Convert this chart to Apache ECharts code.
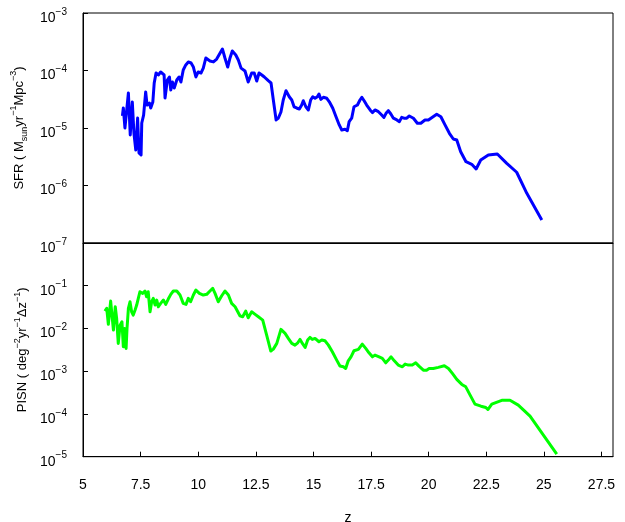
<!DOCTYPE html>
<html>
<head>
<meta charset="utf-8">
<script src="https://cdn.jsdelivr.net/npm/echarts@6/dist/echarts.min.js"></script>
<style>
html,body{margin:0;padding:0;background:#fff;}
#chart{width:625px;height:522px;}
</style>
</head>
<body>
<div id="chart"></div>
<script>
// redshift ticks
const xTicks = [5, 7.5, 10, 12.5, 15, 17.5, 20, 22.5, 25, 27.5];

// SFR curve (z, M_sun yr^-1 Mpc^-3)
const zSfr = [6.71,6.75,6.82,6.97,7.05,7.14,7.21,7.29,7.37,7.43,
  7.52,7.55,7.63,7.72,7.78,7.88,7.94,8.03,8.09,8.17,
  8.27,8.37,8.44,8.52,8.56,8.66,8.75,8.81,8.88,8.96,
  9.07,9.17,9.25,9.35,9.46,9.57,9.69,9.79,9.90,10.00,
  10.12,10.22,10.33,10.41,10.51,10.66,10.80,10.95,11.05,11.16,
  11.28,11.38,11.48,11.63,11.74,11.86,12.03,12.17,12.32,12.43,
  12.54,12.64,12.76,12.87,13.04,13.16,13.26,13.38,13.48,13.59,
  13.69,13.81,13.95,14.06,14.16,14.27,14.39,14.49,14.56,14.67,
  14.78,14.88,14.97,15.07,15.17,15.24,15.32,15.43,15.58,15.69,
  15.84,15.98,16.12,16.23,16.37,16.47,16.55,16.66,16.76,16.91,
  17.02,17.10,17.20,17.31,17.46,17.56,17.67,17.82,17.92,18.06,
  18.15,18.25,18.36,18.47,18.62,18.73,18.83,18.93,19.05,19.16,
  19.22,19.34,19.51,19.66,19.74,19.84,19.99,20.13,20.35,20.53,
  20.71,20.90,21.07,21.22,21.39,21.62,21.87,22.06,22.26,22.59,
  22.98,23.39,23.82,24.26,24.91];
const sfr = [1.62e-5,2.23e-5,1.0e-5,4.06e-5,7.55e-6,2.83e-5,8.18e-6,4.14e-6,1.49e-5,3.67e-6,
  3.39e-6,1.22e-5,1.68e-5,4.23e-5,2.51e-5,2.72e-5,2.23e-5,2.83e-5,6.06e-5,9.05e-5,
  8.36e-5,9.42e-5,1.02e-4,8.36e-5,3.33e-5,6.84e-5,7.71e-5,4.58e-5,6.31e-5,4.97e-5,
  6.84e-5,7.71e-5,6.31e-5,1.02e-4,1.25e-4,1.41e-4,1.35e-4,1.15e-4,7.71e-5,9.42e-5,
  9.05e-5,1.10e-4,1.65e-4,1.72e-4,1.46e-4,1.41e-4,1.58e-4,2.01e-4,2.37e-4,1.65e-4,
  1.15e-4,1.65e-4,2.18e-4,1.86e-4,1.52e-4,1.10e-4,9.80e-5,6.31e-5,9.05e-5,9.05e-5,
  6.57e-5,9.05e-5,8.36e-5,7.71e-5,6.65e-5,6.06e-5,3.07e-5,1.38e-5,1.49e-5,1.90e-5,
  3.07e-5,4.46e-5,3.50e-5,3.07e-5,2.34e-5,2.23e-5,2.14e-5,2.51e-5,2.98e-5,2.34e-5,
  2.06e-5,3.07e-5,3.50e-5,3.29e-5,3.50e-5,3.90e-5,3.15e-5,3.42e-5,3.29e-5,2.86e-5,
  2.20e-5,1.57e-5,1.13e-5,9.23e-6,9.48e-6,8.97e-6,1.29e-5,1.48e-5,2.34e-5,2.51e-5,
  3.07e-5,3.42e-5,2.98e-5,2.51e-5,2.06e-5,1.85e-5,2.06e-5,1.92e-5,1.75e-5,1.53e-5,
  1.80e-5,2.00e-5,1.75e-5,1.48e-5,1.38e-5,1.29e-5,1.53e-5,1.48e-5,1.48e-5,1.62e-5,
  1.68e-5,1.48e-5,1.21e-5,1.21e-5,1.16e-5,1.38e-5,1.38e-5,1.51e-5,1.73e-5,1.57e-5,
  1.13e-5,8.09e-6,6.44e-6,6.18e-6,3.87e-6,2.59e-6,2.34e-6,1.94e-6,2.77e-6,3.39e-6,
  3.53e-6,2.43e-6,1.70e-6,7.31e-7,2.51e-7];

// PISN curve (z, deg^-2 yr^-1 dz^-1)
const zPisn = [5.95,6.03,6.10,6.20,6.27,6.32,6.40,6.46,6.53,6.61,
  6.69,6.75,6.81,6.87,6.91,6.97,7.04,7.11,7.18,7.26,
  7.33,7.40,7.47,7.59,7.69,7.76,7.83,7.91,7.98,8.05,
  8.13,8.20,8.27,8.37,8.49,8.59,8.70,8.81,8.92,9.07,
  9.21,9.35,9.47,9.57,9.67,9.79,9.90,10.05,10.22,10.37,
  10.51,10.63,10.73,10.87,11.02,11.16,11.31,11.45,11.60,11.67,
  11.81,11.93,12.06,12.17,12.32,12.47,12.61,12.80,12.97,13.15,
  13.26,13.41,13.59,13.77,13.91,14.06,14.20,14.32,14.42,14.52,
  14.64,14.75,14.85,14.95,15.07,15.14,15.24,15.36,15.50,15.65,
  15.82,16.01,16.15,16.30,16.40,16.51,16.63,16.76,16.95,17.12,
  17.27,17.41,17.56,17.67,17.85,17.99,18.14,18.25,18.37,18.51,
  18.68,18.86,18.98,19.12,19.29,19.44,19.58,19.77,19.91,20.02,
  20.20,20.42,20.68,20.86,21.03,21.22,21.44,21.61,21.80,22.01,
  22.27,22.48,22.57,22.74,23.00,23.20,23.53,23.89,24.40,24.98,25.56];
const pisn = [2.55e-2,2.96e-2,1.25e-2,4.38e-2,4.62e-2,9.18e-3,3.22e-2,1.72e-2,4.48e-3,1.20e-2,
  1.44e-2,3.73e-3,1.00e-2,3.42e-3,1.00e-2,2.96e-2,4.22e-2,2.46e-2,2.06e-2,2.70e-2,
  3.53e-2,5.07e-2,7.23e-2,6.64e-2,7.52e-2,5.52e-2,7.23e-2,2.46e-2,4.22e-2,5.07e-2,
  3.53e-2,4.62e-2,3.22e-2,3.87e-2,4.62e-2,3.67e-2,4.88e-2,6.29e-2,7.52e-2,7.52e-2,
  6.06e-2,3.87e-2,3.67e-2,5.07e-2,4.22e-2,6.06e-2,7.93e-2,6.64e-2,6.06e-2,6.29e-2,
  7.52e-2,8.69e-2,6.64e-2,4.22e-2,5.83e-2,7.52e-2,6.06e-2,3.87e-2,3.22e-2,2.96e-2,
  1.98e-2,1.88e-2,2.55e-2,1.78e-2,2.46e-2,2.14e-2,1.88e-2,1.57e-2,7.00e-3,2.96e-3,
  3.29e-3,4.48e-3,9.52e-3,7.68e-3,5.86e-3,4.48e-3,4.08e-3,4.63e-3,5.56e-3,4.48e-3,
  3.61e-3,5.35e-3,6.19e-3,5.56e-3,5.86e-3,6.39e-3,4.89e-3,5.35e-3,5.15e-3,4.08e-3,
  2.85e-3,1.82e-3,1.32e-3,1.27e-3,1.16e-3,1.75e-3,2.17e-3,3.01e-3,3.24e-3,4.31e-3,
  3.42e-3,2.70e-3,2.17e-3,2.38e-3,2.17e-3,2.00e-3,1.57e-3,1.82e-3,2.17e-3,1.75e-3,
  1.39e-3,1.27e-3,1.47e-3,1.39e-3,1.39e-3,1.57e-3,1.32e-3,1.06e-3,1.06e-3,1.16e-3,
  1.16e-3,1.23e-3,1.34e-3,1.16e-3,8.88e-4,6.43e-4,4.91e-4,4.31e-4,2.76e-4,1.70e-4,
  1.52e-4,1.42e-4,1.27e-4,1.70e-4,1.92e-4,2.10e-4,2.10e-4,1.61e-4,8.88e-5,3.19e-5,1.15e-5];

const FONT = '"Liberation Sans", Arial, sans-serif';
const zip = (a, b) => a.map((v, i) => [v, b[i]]);

function powLabel(v) {
  const e = Math.round(Math.log10(v));
  return '{b|10}{s|' + (e < 0 ? '\u2212' : '') + Math.abs(e) + '}';
}
const powRich = {
  b: {fontSize: 14, lineHeight: 18, verticalAlign: 'bottom', fontFamily: FONT, color: '#000'},
  s: {fontSize: 10, lineHeight: 10, verticalAlign: 'top', fontFamily: FONT, color: '#000'}
};
const nameRich = {
  t: {fontSize: 13, lineHeight: 20, fontFamily: FONT, color: '#000'},
  p: {fontSize: 9, lineHeight: 9, verticalAlign: 'top', fontFamily: FONT, color: '#000'},
  d: {fontSize: 9, lineHeight: 9, verticalAlign: 'bottom', fontFamily: FONT, color: '#000'}
};

const chart = echarts.init(document.getElementById('chart'), null, {renderer: 'canvas'});
const axisLine = {show: true, onZero: false, lineStyle: {color: '#000', width: 1}};

chart.setOption({
  animation: false,
  backgroundColor: '#fff',
  textStyle: {fontFamily: FONT},
  grid: [
    {left: 83, top: 13, width: 530, height: 230, show: true, borderColor: '#000', borderWidth: 1,
      containLabel: false, outerBoundsMode: 'none'},
    {left: 83, top: 243, width: 530, height: 213.7, show: true, borderColor: '#000', borderWidth: 1,
      containLabel: false, outerBoundsMode: 'none'}
  ],
  xAxis: [
    {type: 'value', gridIndex: 0, min: 5, max: 28, interval: 2.5,
      axisLine: axisLine, axisTick: {show: false}, axisLabel: {show: false}, splitLine: {show: false}},
    {type: 'value', gridIndex: 1, min: 5, max: 28, interval: 2.5,
      axisLine: axisLine,
      axisTick: {show: true, inside: true, length: 5, lineStyle: {color: '#000'}},
      axisLabel: {show: true, margin: 20, fontSize: 14, color: '#000', fontFamily: FONT, showMaxLabel: false,
        verticalAlign: 'top', lineHeight: 16,
        formatter: v => (xTicks.indexOf(v) >= 0 ? String(v) : '')},
      splitLine: {show: false},
      name: 'z', nameLocation: 'middle', nameGap: 54, nameMoveOverlap: false,
      nameTextStyle: {fontSize: 14, color: '#000', fontFamily: FONT, verticalAlign: 'top'}}
  ],
  yAxis: [
    {type: 'log', logBase: 10, gridIndex: 0, min: 1e-7, max: 1e-3, splitNumber: 4,
      axisLine: axisLine,
      axisTick: {show: true, inside: true, length: 5, lineStyle: {color: '#000'}},
      axisLabel: {show: true, margin: 16, formatter: powLabel, rich: powRich, padding: [6, 0, 0, 0]},
      splitLine: {show: false}, minorTick: {show: false},
      name: '{t|SFR ( M}{d|sun}{t|yr}{p|\u22121}{t|Mpc}{p|\u22123}{t|)}',
      nameLocation: 'middle', nameRotate: 90, nameGap: 49,
      nameTextStyle: {rich: nameRich, fontSize: 13, color: '#000', fontFamily: FONT}},
    {type: 'log', logBase: 10, gridIndex: 1, min: 1e-5, max: 1, splitNumber: 5,
      axisLine: axisLine,
      axisTick: {show: true, inside: true, length: 5, lineStyle: {color: '#000'}},
      axisLabel: {show: true, margin: 16, formatter: powLabel, rich: powRich, padding: [6, 0, 0, 0], showMaxLabel: false},
      splitLine: {show: false}, minorTick: {show: false},
      name: '{t|PISN ( deg}{p|\u22122}{t|yr}{p|\u22121}{t|\u0394z}{p|\u22121}{t|)}',
      nameLocation: 'middle', nameRotate: 90, nameGap: 49,
      nameTextStyle: {rich: nameRich, fontSize: 13, color: '#000', fontFamily: FONT}}
  ],
  series: [
    {type: 'line', xAxisIndex: 0, yAxisIndex: 0, data: zip(zSfr, sfr), showSymbol: false, symbol: 'none',
      smooth: false, lineStyle: {color: '#0000ff', width: 3, join: 'round'}, itemStyle: {color: '#0000ff'}},
    {type: 'line', xAxisIndex: 1, yAxisIndex: 1, data: zip(zPisn, pisn), showSymbol: false, symbol: 'none',
      smooth: false, lineStyle: {color: '#00ff00', width: 3, join: 'round'}, itemStyle: {color: '#00ff00'}}
  ]
});
</script>
</body>
</html>
